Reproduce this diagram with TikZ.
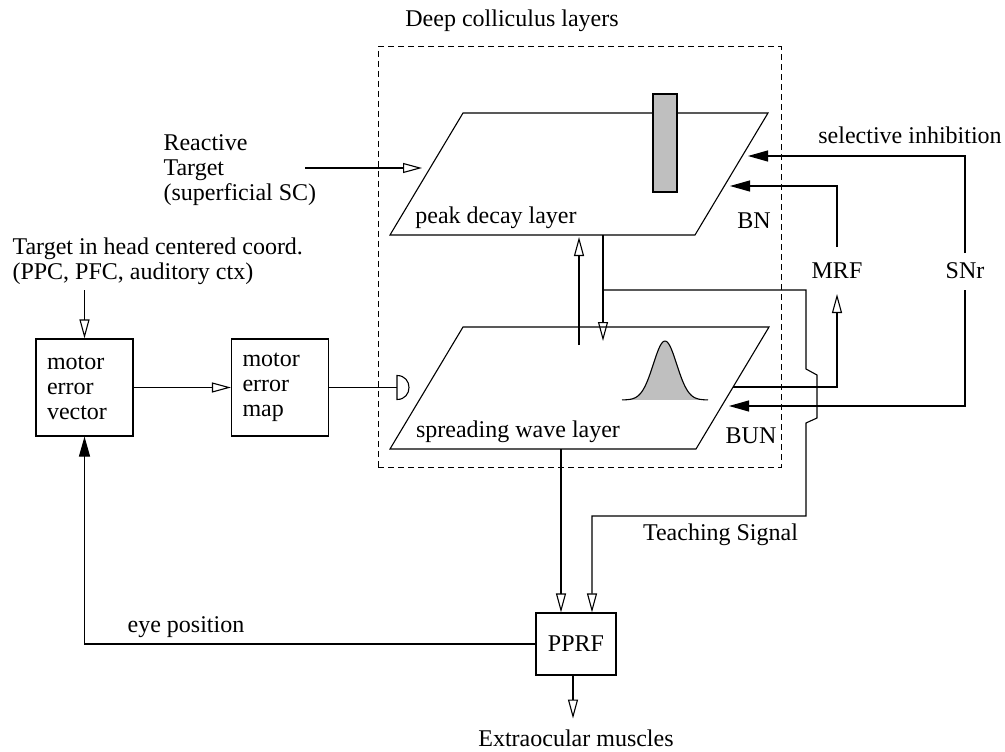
\documentclass[tikz,border=0pt]{standalone}
\usepackage{fontspec}
\setmainfont{Liberation Serif}
\usetikzlibrary{arrows.meta}
\begin{document}
\begin{tikzpicture}[x=1pt,y=-1pt,line width=1.1pt,
  open/.style={-{Triangle[open,length=19pt,width=10pt]}},
  filled/.style={-{Triangle[length=20pt,width=11pt]}},
  lbl/.style={inner sep=0pt,font=\fontsize{24}{25}\selectfont},
  box/.style={draw,minimum width=97pt,minimum height=97pt,text width=75pt,align=left,inner sep=0pt,font=\fontsize{24}{25}\selectfont},
  layer/.style={line width=1.1pt}]
\useasboundingbox (0,0) rectangle (1005,752);

% dashed region
\node[draw,dash pattern=on 6pt off 4pt,line width=1pt,minimum width=403pt,minimum height=420pt,inner sep=0pt] (sc) at (579.5,257) {};
\node[lbl,anchor=base] (title) at (512,27) {Deep colliculus layers};

% peak decay layer
\coordinate (pA) at (390,235); \coordinate (pB) at (463,113);
\coordinate (pC) at (768,113); \coordinate (pD) at (695,235);
\draw[layer] (pA) -- (pB) -- (pC) -- (pD) -- cycle;
\node[draw,fill=gray!50,minimum width=24pt,minimum height=98pt,inner sep=0pt] (bar) at (665,143) {};
\node[lbl,anchor=base] (pdl) at (496,223) {peak decay layer};

% spreading wave layer
\coordinate (sA) at (390,449); \coordinate (sB) at (463,327);
\coordinate (sC) at (769,327); \coordinate (sD) at (696,449);
\draw[layer] (sA) -- (sB) -- (sC) -- (sD) -- cycle;
\fill[gray!50] plot[domain=622:708,samples=80] (\x,{400-59*exp(-0.5*((\x-665)/11.7)*((\x-665)/11.7))}) -- cycle;
\draw plot[domain=622:708,samples=80] (\x,{400-59*exp(-0.5*((\x-665)/11.7)*((\x-665)/11.7))});
\node[lbl,anchor=base] (swl) at (518,437) {spreading wave layer};

% labels
\node[lbl,anchor=base] (bn) at (754,228) {BN};
\node[lbl,anchor=base] (bun) at (751,443) {BUN};
\node[lbl,anchor=base] (mrf) at (837,278) {MRF};
\node[lbl,anchor=base] (snr) at (965,278) {SNr};
\node[lbl,anchor=base] (selinh) at (910,143) {selective inhibition};
\node[lbl,anchor=base] (teach) at (720.5,540) {Teaching Signal};
\node[lbl,anchor=base] (eyepos) at (186,632) {eye position};
\node[lbl,anchor=base] (extra) at (576,746) {Extraocular muscles};
\node[lbl,align=left,anchor=west] (react) at (163,170) {Reactive\\Target\\(superficial SC)};
\node[lbl,align=left,anchor=west] (headt) at (12,261) {Target in head centered coord.\\(PPC, PFC, auditory ctx)};

% boxes
\node[box] (mev) at (84.5,387.5) {motor\\error\\vector};
\node[box] (mem) at (280,387.5) {motor\\error\\map};
\node[draw,minimum width=80pt,minimum height=62pt,inner sep=0pt,font=\fontsize{24}{25}\selectfont] (pprf) at (576,644) {PPRF};

% connectors
\coordinate (reIn) at (305,168); \coordinate (reTip) at (422,168);
\draw[open] (reIn) -- (reTip);
\coordinate (htOut) at (84.5,290);
\draw[open] (htOut) -- (mev.north);
\draw[open] (mev) -- (mem);
\coordinate (dL) at (397,387.5);
\draw (mem.east) -- (dL);
\draw (397,375.5) .. controls (413,375.5) and (413,399.5) .. (397,399.5) -- cycle;

\draw[open] (579,345) -- (579,237);
\draw[open] (603,235) -- (603,341);

\draw[open] (603,290) -| (806,369) -- (817,375) -- (817,418) -- (806,423) -- (806,516) -| ([xshift=16pt]pprf.north);
\coordinate (swOut) at (561,449);
\draw[open] (swOut) -- (swOut |- pprf.north);
\draw[open] ([xshift=-3pt]pprf.south) -- ++(0,43);
\draw[filled] (pprf.west) -| (mev.south);

\draw[open] (733,387) -| (837,294);
\draw[filled] (837,247) |- (730,186);
\draw[filled] (965,253) |- (748,156);
\draw[filled] (965,290) |- (729,406);
\end{tikzpicture}
\end{document}
